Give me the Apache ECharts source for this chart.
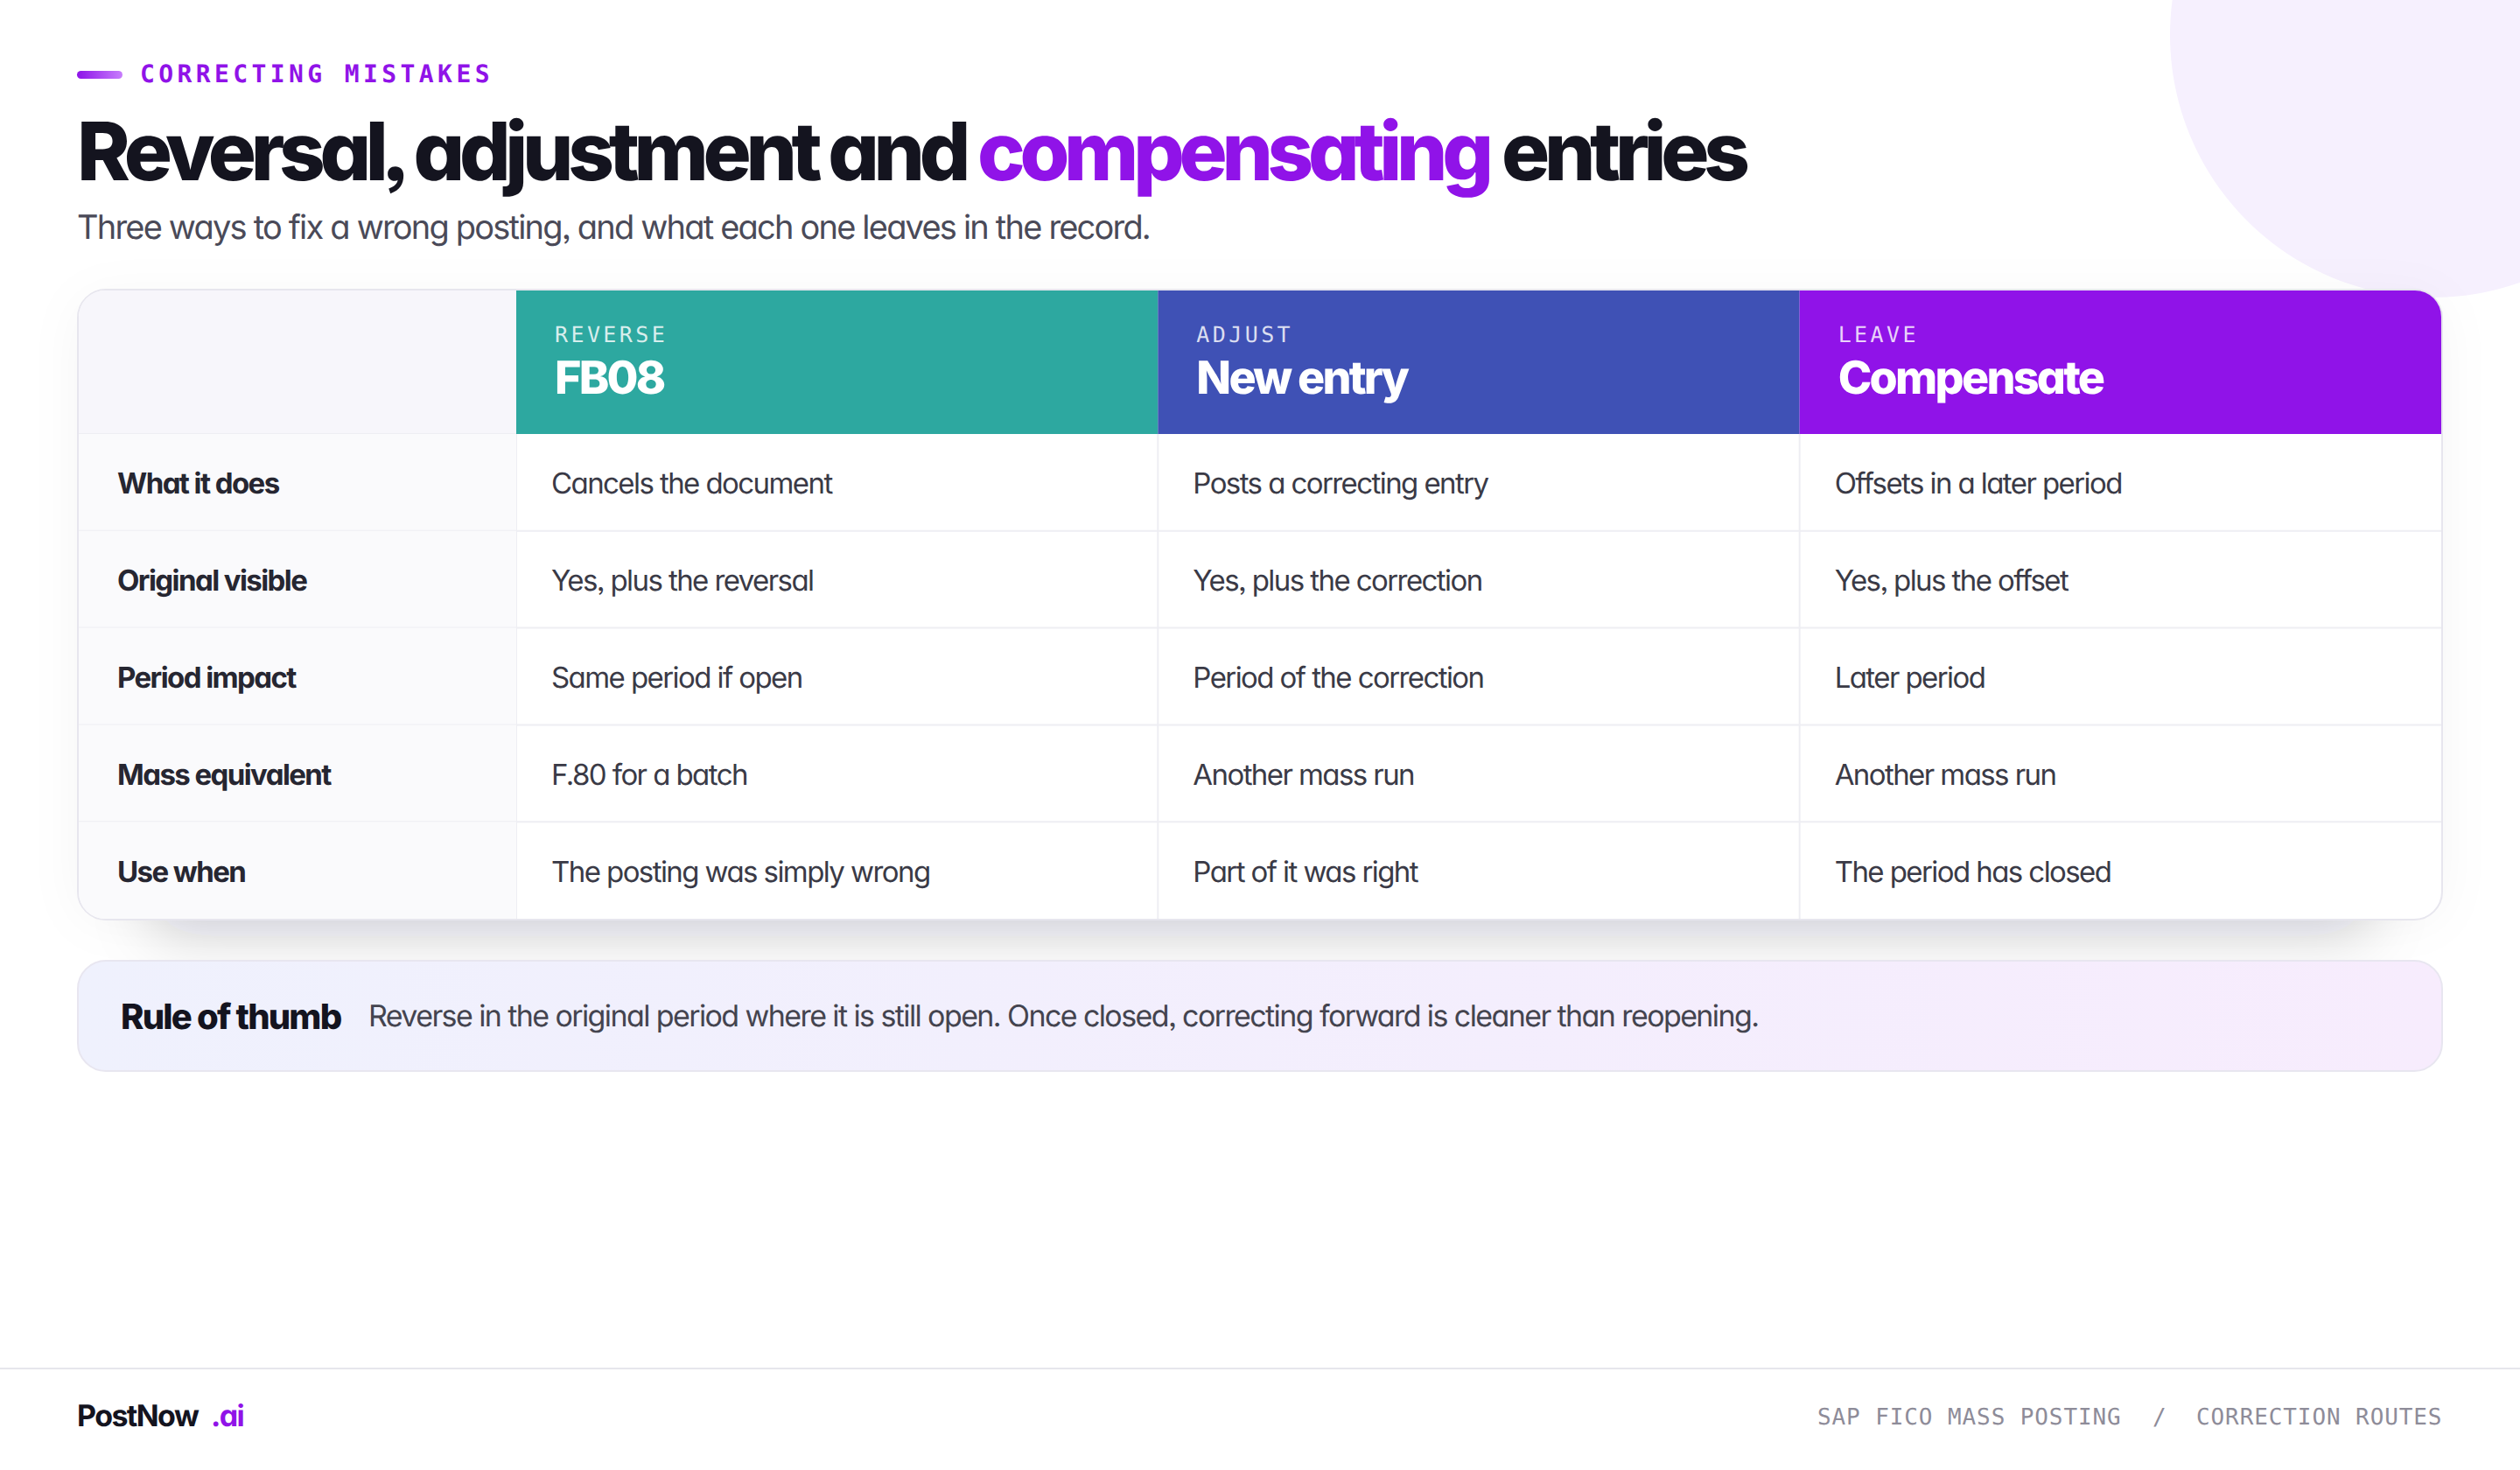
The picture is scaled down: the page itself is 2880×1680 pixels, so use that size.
<!DOCTYPE html>
<html>
<head>
<meta charset="utf-8">
<style>
html,body{margin:0;padding:0;background:#fff}
#main{width:2880px;height:1680px}
/* zrender writes the font shorthand inline, so these need !important */
#main text{font-feature-settings:"cv11","ss03" !important;text-rendering:geometricPrecision}
#main text[style*="92px"]{letter-spacing:-6.3px;word-spacing:-1px}
#main text[style*="38px"]{letter-spacing:-1.8px}
#main text[style*="33px"]{letter-spacing:-1.58px}
#main text[style*="34px"]{letter-spacing:-1.6px}
#main text[style*="28px"]{letter-spacing:4.4px}
#main text[style*="25px"]{letter-spacing:3.4px}
#main text[style*="52px"]{letter-spacing:-2.75px}
#main text[style*="40px"]{letter-spacing:-1.8px}
#main text[style*="26px"]{letter-spacing:.9px}
</style>
<script src="https://cdn.jsdelivr.net/npm/echarts@6/dist/echarts.min.js"></script>
</head>
<body>
<div id="main"></div>
<script>
var eyebrow = 'CORRECTING MISTAKES';
var titleParts = ['Reversal, adjustment and', 'compensating', 'entries'];
var subtitle = 'Three ways to fix a wrong posting, and what each one leaves in the record.';
var routeTags = ['REVERSE', 'ADJUST', 'LEAVE'];
var routeNames = ['FB08', 'New entry', 'Compensate'];
var routeColors = ['#2da8a0', '#3f51b5', '#9013e8'];
var rowLabels = ['What it does', 'Original visible', 'Period impact', 'Mass equivalent', 'Use when'];
var reverseCells = ['Cancels the document', 'Yes, plus the reversal', 'Same period if open', 'F.80 for a batch', 'The posting was simply wrong'];
var adjustCells = ['Posts a correcting entry', 'Yes, plus the correction', 'Period of the correction', 'Another mass run', 'Part of it was right'];
var leaveCells = ['Offsets in a later period', 'Yes, plus the offset', 'Later period', 'Another mass run', 'The period has closed'];
var ruleTitle = 'Rule of thumb';
var ruleText = 'Reverse in the original period where it is still open. Once closed, correcting forward is cleaner than reopening.';
var brand = ['PostNow', '.ai'];
var footerParts = ['SAP FICO MASS POSTING', '/', 'CORRECTION ROUTES'];

var cellColumns = [reverseCells, adjustCells, leaveCells];
var SANS = 'Inter, "Noto Sans", sans-serif';
var MONO = '"DejaVu Sans Mono", monospace';
var LINE = '#eeeef3';

function txt(x, y, text, size, weight, fill, family, align) {
    return {
        type: 'text', x: x, y: y, z: 5, silent: true,
        style: {
            text: text, fill: fill, align: align || 'left', verticalAlign: 'middle',
            fontSize: size, fontWeight: weight, fontFamily: family || SANS
        }
    };
}

function border(x1, y1, x2, y2) {
    return { type: 'line', shape: { x1: x1, y1: y1, x2: x2, y2: y2 }, style: { stroke: LINE, lineWidth: 2 } };
}

// one body row cell: text plus its own left and bottom rule
function cellItem(params, api, getText, isLabel) {
    var c = api.value(0), r = api.value(1);
    var p = api.coord([c, r]), s = api.size([1, 1]);
    var x = p[0] - s[0] / 2, y = p[1] - s[1] / 2;
    var last = r === rowLabels.length - 1;
    var kids = [];
    if (isLabel) {
        kids.push({
            type: 'rect', shape: { x: x, y: y, width: s[0], height: s[1], r: last ? [0, 0, 0, 30] : 0 },
            style: { fill: '#fafafc' }
        });
    } else {
        kids.push(border(x, y, x, y + s[1]));
    }
    if (!last) kids.push(border(x, y + s[1], x + s[0], y + s[1]));
    kids.push({
        type: 'text',
        style: {
            x: x + (isLabel ? 44 : 40), y: p[1] + 1, text: getText(c, r), align: 'left', verticalAlign: 'middle',
            fill: isLabel ? '#262631' : '#3a3a46', fontSize: 33,
            fontWeight: isLabel ? 700 : 400, fontFamily: SANS
        }
    });
    return { type: 'group', children: kids };
}

function headerItem(params, api) {
    var c = api.value(0);
    var p = api.coord([c, 0]), s = api.size([1, 1]);
    var x = p[0] - s[0] / 2, y = p[1] - s[1] / 2;
    return {
        type: 'group',
        children: [{
            type: 'rect',
            shape: { x: x, y: y, width: s[0], height: s[1], r: c === routeTags.length - 1 ? [0, 30, 0, 0] : 0 },
            style: { fill: routeColors[c] }
        }, {
            type: 'text',
            style: {
                x: x + 44, y: y + 50, text: routeTags[c], align: 'left', verticalAlign: 'middle',
                fill: 'rgba(255,255,255,.82)', fontSize: 25, fontWeight: 500, fontFamily: MONO
            }
        }, {
            type: 'text',
            style: {
                x: x + 44, y: y + 99, text: routeNames[c], align: 'left', verticalAlign: 'middle',
                fill: '#fff', fontSize: 52, fontWeight: 800, fontFamily: SANS
            }
        }]
    };
}

var bodyData = [], labelData = [], headerData = [];
rowLabels.forEach(function (label, r) {
    labelData.push([0, r]);
    routeTags.forEach(function (tag, c) { bodyData.push([c, r]); });
});
routeTags.forEach(function (tag, c) { headerData.push([c, 0]); });

function hiddenAxis(type, grid, data, inverse) {
    return { type: type, gridIndex: grid, data: data, inverse: !!inverse, show: false };
}

var myChart = echarts.init(document.getElementById('main'), null, { renderer: 'svg', width: 2880, height: 1680 });
var option = {
    backgroundColor: '#fff',
    animation: false,
    grid: [
        { left: 590, top: 332, width: 2200, height: 164 },
        { left: 590, top: 496, width: 2200, height: 554 },
        { left: 90, top: 496, width: 500, height: 554 }
    ],
    xAxis: [
        hiddenAxis('category', 0, routeNames),
        hiddenAxis('category', 1, routeNames),
        hiddenAxis('category', 2, ['label'])
    ],
    yAxis: [
        hiddenAxis('category', 0, ['header']),
        hiddenAxis('category', 1, rowLabels, true),
        hiddenAxis('category', 2, rowLabels, true)
    ],
    graphic: [
        // decor circle behind the card
        { type: 'circle', z: -10, silent: true, shape: { cx: 2780, cy: 40, r: 300 }, style: { fill: '#f6f0fe' } },
        // card shadows
        { type: 'rect', z: -9, silent: true, shape: { x: 92, y: 340, width: 2696, height: 706, r: 30 },
          style: { fill: '#fff', shadowBlur: 60, shadowOffsetY: 4, shadowColor: 'rgba(20,20,40,.045)' } },
        { type: 'rect', z: -8, silent: true, shape: { x: 170, y: 400, width: 2540, height: 640, r: 30 },
          style: { fill: '#fff', shadowBlur: 64, shadowOffsetY: 30, shadowColor: 'rgba(20,20,50,.17)' } },
        { type: 'rect', z: -7, silent: true, shape: { x: 89, y: 331, width: 2702, height: 720, r: 32 },
          style: { fill: '#fff', stroke: '#e7e6ee', lineWidth: 2 } },
        { type: 'rect', z: -6, silent: true, shape: { x: 90, y: 332, width: 500, height: 164, r: [30, 0, 0, 0] },
          style: { fill: '#f7f6fb' } },
        { type: 'line', z: -6, silent: true, shape: { x1: 90, y1: 496, x2: 590, y2: 496 },
          style: { stroke: LINE, lineWidth: 2 } },
        // eyebrow
        { type: 'rect', silent: true, shape: { x: 88, y: 81, width: 52, height: 9, r: 4.5 },
          style: { fill: new echarts.graphic.LinearGradient(0, 0, 1, 0, [
              { offset: 0, color: '#8e14e8' }, { offset: 1, color: '#c77dfc' }]) } },
        txt(160, 84, eyebrow, 28, 600, '#9013e8', MONO),
        // title
        txt(88, 173, titleParts[0], 92, 800, '#14141f'),
        txt(1117, 173, titleParts[1], 92, 800, '#9013e8'),
        txt(1716, 173, titleParts[2], 92, 800, '#14141f'),
        txt(88, 260, subtitle, 38, 400, '#4a4a58'),
        // rule of thumb
        { type: 'rect', silent: true, shape: { x: 89, y: 1098, width: 2702, height: 126, r: 32 },
          style: { stroke: '#e8e6f0', lineWidth: 2, fill: new echarts.graphic.LinearGradient(0, 0, 1, 0, [
              { offset: 0, color: '#eff1fd' }, { offset: 1, color: '#f7ecfd' }]) } },
        txt(138, 1161, ruleTitle, 40, 800, '#14141f'),
        txt(421, 1161, ruleText, 34, 400, '#44444f'),
        // footer
        { type: 'line', silent: true, shape: { x1: 0, y1: 1564, x2: 2880, y2: 1564 },
          style: { stroke: '#e6e6ec', lineWidth: 2 } },
        txt(88, 1618, brand[0], 34, 700, '#14141f'),
        txt(241, 1618, brand[1], 34, 700, '#9013e8'),
        txt(2077, 1620, footerParts[0], 26, 400, '#8e8c99', MONO),
        txt(2460, 1620, footerParts[1], 26, 400, '#8e8c99', MONO),
        txt(2510, 1620, footerParts[2], 26, 400, '#8e8c99', MONO)
    ],
    series: [{
        type: 'custom', xAxisIndex: 0, yAxisIndex: 0, data: headerData, silent: true,
        encode: { x: 0, y: 1 }, renderItem: headerItem
    }, {
        type: 'custom', xAxisIndex: 1, yAxisIndex: 1, data: bodyData, silent: true,
        encode: { x: 0, y: 1 },
        renderItem: function (params, api) {
            return cellItem(params, api, function (c, r) { return cellColumns[c][r]; }, false);
        }
    }, {
        type: 'custom', xAxisIndex: 2, yAxisIndex: 2, data: labelData, silent: true,
        encode: { x: 0, y: 1 },
        renderItem: function (params, api) {
            return cellItem(params, api, function (c, r) { return rowLabels[r]; }, true);
        }
    }]
};
myChart.setOption(option);
</script>
</body>
</html>
